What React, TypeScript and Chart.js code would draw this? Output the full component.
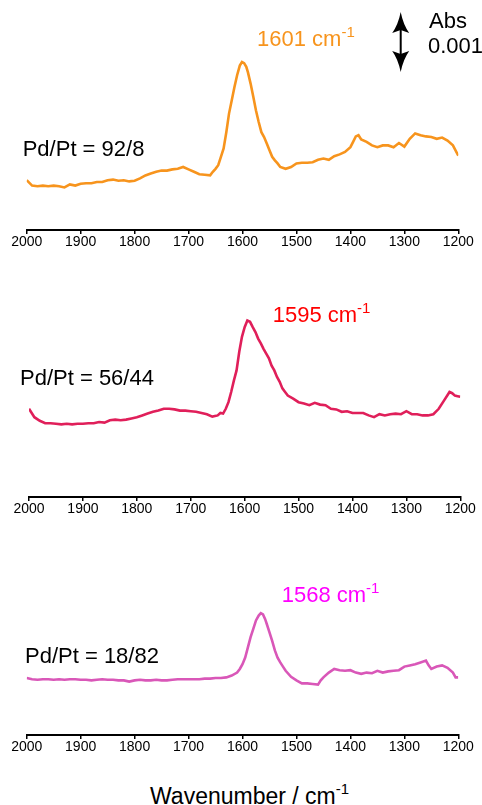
import React, { useEffect, useRef } from 'react';
import { Chart, registerables } from 'chart.js';

Chart.register(...registerables);

const FONT = "'Liberation Sans', Arial, Helvetica, sans-serif";

// x-axis tick labels (wavenumber, cm^-1)
const TICKS = [2000, 1900, 1800, 1700, 1600, 1500, 1400, 1300, 1200];

// Panel 1: Pd/Pt = 92/8 (absorbance, units of 0.001 Abs, arbitrary offset)
const WN1 = [2000, 1990, 1980, 1970, 1960, 1950, 1940, 1930, 1920, 1910, 1900, 1890, 1880, 1870, 1860, 1850, 1840, 1830, 1820, 1810, 1800, 1790, 1780, 1770, 1760, 1750, 1740, 1730, 1720, 1710, 1700, 1690, 1680, 1670, 1660, 1655, 1650, 1645, 1640, 1635, 1630, 1625, 1620, 1615, 1610, 1605, 1601, 1597, 1593, 1590, 1585, 1580, 1575, 1570, 1565, 1560, 1555, 1550, 1545, 1540, 1535, 1530, 1520, 1510, 1500, 1490, 1480, 1470, 1460, 1450, 1440, 1430, 1420, 1410, 1400, 1395, 1390, 1385, 1380, 1370, 1360, 1350, 1340, 1330, 1320, 1310, 1300, 1290, 1280, 1270, 1260, 1250, 1240, 1230, 1220, 1210, 1200];
const ABS1 = [0.83, 0.74, 0.73, 0.74, 0.73, 0.74, 0.73, 0.71, 0.76, 0.74, 0.77, 0.78, 0.78, 0.80, 0.80, 0.83, 0.84, 0.82, 0.83, 0.81, 0.82, 0.86, 0.91, 0.94, 0.97, 0.99, 0.99, 1.01, 1.02, 1.05, 1.01, 0.97, 0.93, 0.92, 0.91, 0.97, 1.02, 1.08, 1.22, 1.36, 1.63, 1.94, 2.16, 2.38, 2.58, 2.74, 2.80, 2.78, 2.72, 2.63, 2.44, 2.22, 1.99, 1.80, 1.63, 1.55, 1.44, 1.33, 1.22, 1.16, 1.11, 1.05, 1.02, 1.05, 1.11, 1.12, 1.12, 1.13, 1.17, 1.19, 1.17, 1.23, 1.26, 1.30, 1.38, 1.47, 1.56, 1.58, 1.51, 1.47, 1.41, 1.38, 1.41, 1.41, 1.38, 1.45, 1.39, 1.52, 1.61, 1.58, 1.56, 1.55, 1.52, 1.54, 1.49, 1.41, 1.24];

// Panel 2: Pd/Pt = 56/44
const WN2 = [2000, 1995, 1990, 1980, 1970, 1960, 1950, 1940, 1930, 1920, 1910, 1900, 1890, 1880, 1870, 1860, 1850, 1840, 1830, 1820, 1810, 1800, 1790, 1780, 1770, 1760, 1750, 1740, 1730, 1720, 1710, 1700, 1690, 1680, 1670, 1660, 1650, 1645, 1640, 1635, 1630, 1625, 1620, 1615, 1610, 1605, 1600, 1595, 1590, 1585, 1580, 1575, 1570, 1565, 1560, 1555, 1550, 1545, 1540, 1535, 1530, 1525, 1520, 1510, 1500, 1490, 1480, 1470, 1460, 1450, 1440, 1430, 1420, 1410, 1400, 1390, 1380, 1370, 1360, 1350, 1340, 1330, 1320, 1310, 1300, 1290, 1280, 1270, 1260, 1250, 1240, 1230, 1220, 1215, 1210, 1205, 1200];
const ABS2 = [1.47, 1.40, 1.33, 1.27, 1.23, 1.23, 1.22, 1.21, 1.22, 1.21, 1.22, 1.22, 1.23, 1.23, 1.25, 1.24, 1.28, 1.29, 1.28, 1.29, 1.31, 1.33, 1.36, 1.39, 1.42, 1.44, 1.47, 1.47, 1.46, 1.44, 1.44, 1.43, 1.42, 1.40, 1.38, 1.34, 1.36, 1.40, 1.39, 1.47, 1.58, 1.75, 1.94, 2.11, 2.42, 2.67, 2.83, 2.94, 2.92, 2.83, 2.75, 2.64, 2.56, 2.47, 2.39, 2.31, 2.19, 2.11, 2.00, 1.92, 1.81, 1.75, 1.69, 1.64, 1.58, 1.56, 1.53, 1.57, 1.54, 1.53, 1.47, 1.46, 1.42, 1.43, 1.40, 1.40, 1.40, 1.36, 1.33, 1.38, 1.36, 1.38, 1.39, 1.38, 1.43, 1.38, 1.38, 1.36, 1.36, 1.38, 1.47, 1.61, 1.75, 1.73, 1.69, 1.68, 1.67];

// Panel 3: Pd/Pt = 18/82
const WN3 = [2000, 1990, 1980, 1970, 1960, 1950, 1940, 1930, 1920, 1910, 1900, 1890, 1880, 1870, 1860, 1850, 1840, 1830, 1820, 1810, 1800, 1790, 1780, 1770, 1760, 1750, 1740, 1730, 1720, 1710, 1700, 1690, 1680, 1670, 1660, 1650, 1640, 1630, 1620, 1610, 1605, 1600, 1595, 1590, 1585, 1580, 1575, 1570, 1566, 1562, 1558, 1555, 1550, 1545, 1540, 1535, 1530, 1525, 1520, 1510, 1500, 1490, 1480, 1470, 1460, 1455, 1450, 1440, 1430, 1420, 1410, 1400, 1390, 1380, 1370, 1360, 1350, 1340, 1330, 1320, 1310, 1300, 1290, 1280, 1270, 1260, 1255, 1250, 1240, 1230, 1220, 1210, 1205, 1200];
const ABS3 = [0.95, 0.93, 0.92, 0.93, 0.93, 0.92, 0.93, 0.92, 0.93, 0.93, 0.92, 0.92, 0.91, 0.92, 0.93, 0.92, 0.92, 0.91, 0.91, 0.89, 0.91, 0.92, 0.91, 0.91, 0.92, 0.91, 0.91, 0.92, 0.93, 0.93, 0.93, 0.93, 0.93, 0.94, 0.94, 0.95, 0.95, 0.96, 0.99, 1.04, 1.10, 1.18, 1.29, 1.46, 1.63, 1.77, 1.91, 1.99, 2.03, 2.01, 1.93, 1.85, 1.71, 1.57, 1.41, 1.29, 1.21, 1.14, 1.07, 0.97, 0.91, 0.86, 0.86, 0.85, 0.84, 0.91, 0.96, 1.04, 1.10, 1.08, 1.07, 1.08, 1.04, 1.02, 1.04, 1.03, 1.07, 1.04, 1.06, 1.07, 1.08, 1.14, 1.16, 1.18, 1.21, 1.24, 1.16, 1.10, 1.14, 1.16, 1.12, 1.04, 0.96, 0.96];

// Scale bar value (units of 0.001 Abs)
const SCALE_BAR = 1;
const PX_PER_UNIT = 60;
const X_AXIS_H = 30;

const scaleBarPlugin = {
  id: 'scaleBar',
  afterDraw(chart: any) {
    const { ctx } = chart;
    const y = chart.scales.y;
    const len = y.getPixelForValue(0) - y.getPixelForValue(SCALE_BAR);
    const x = 400.7;
    const top = 12;
    const bottom = top + len;
    const hh = 21;
    const hw = 8.5;
    const notch = 3;
    ctx.save();
    ctx.fillStyle = '#000';
    ctx.strokeStyle = '#000';
    ctx.lineWidth = 2;
    ctx.beginPath();
    ctx.moveTo(x, top + hh - notch);
    ctx.lineTo(x, bottom - hh + notch);
    ctx.stroke();
    // top head
    ctx.beginPath();
    ctx.moveTo(x, top);
    ctx.quadraticCurveTo(x + 2.5, top + hh * 0.6, x + hw, top + hh);
    ctx.lineTo(x, top + hh - notch);
    ctx.lineTo(x - hw, top + hh);
    ctx.quadraticCurveTo(x - 2.5, top + hh * 0.6, x, top);
    ctx.closePath();
    ctx.fill();
    // bottom head
    ctx.beginPath();
    ctx.moveTo(x, bottom);
    ctx.quadraticCurveTo(x + 2.5, bottom - hh * 0.6, x + hw, bottom - hh);
    ctx.lineTo(x, bottom - hh + notch);
    ctx.lineTo(x - hw, bottom - hh);
    ctx.quadraticCurveTo(x - 2.5, bottom - hh * 0.6, x, bottom);
    ctx.closePath();
    ctx.fill();
    ctx.restore();
  },
};

type PanelProps = {
  top: number;
  height: number;
  padLeft: number;
  padRight: number;
  wn: number[];
  abs: number[];
  color: string;
  scaleBar?: boolean;
};

function Panel({ top, height, padLeft, padRight, wn, abs, color, scaleBar }: PanelProps) {
  const ref = useRef<HTMLCanvasElement | null>(null);
  useEffect(() => {
    if (!ref.current) return;
    const areaH = height - X_AXIS_H;
    const chart = new Chart(ref.current, {
      type: 'line',
      data: {
        datasets: [
          {
            data: wn.map((w, i) => ({ x: w, y: abs[i] })),
            borderColor: color,
            backgroundColor: color,
            borderWidth: 2.6,
            pointRadius: 0,
            tension: 0,
            fill: false,
            borderJoinStyle: 'miter',
          },
        ],
      },
      options: {
        animation: false,
        responsive: false,
        maintainAspectRatio: false,
        events: [],
        layout: { padding: { left: padLeft, right: padRight, top: 0, bottom: 0 } },
        plugins: {
          legend: { display: false },
          tooltip: { enabled: false },
          title: { display: false },
        },
        scales: {
          x: {
            type: 'linear',
            reverse: true,
            min: 1200,
            max: 2000,
            afterBuildTicks: (s: any) => {
              s.ticks = TICKS.map((v) => ({ value: v }));
            },
            afterFit: (s: any) => {
              s.height = X_AXIS_H;
            },
            grid: {
              display: true,
              drawOnChartArea: false,
              drawTicks: true,
              tickLength: 4,
              color: '#000',
              lineWidth: 1.5,
            },
            border: { display: true, color: '#000', width: 2 },
            ticks: {
              color: '#000',
              font: { family: FONT, size: 14 },
              padding: 0,
              maxRotation: 0,
              autoSkip: false,
              callback: (v: any) => String(v),
            },
          },
          y: {
            display: false,
            min: 0,
            max: areaH / PX_PER_UNIT,
          },
        },
      } as any,
      plugins: scaleBar ? [scaleBarPlugin] : [],
    });
    return () => chart.destroy();
  }, []);
  return (
    <canvas
      ref={ref}
      width={482}
      height={height}
      style={{ position: 'absolute', left: 0, top, width: 482, height }}
    />
  );
}

function Label({
  left,
  baseline,
  size,
  color,
  text,
  sup,
}: {
  left: number;
  baseline: number;
  size: number;
  color: string;
  text: string;
  sup?: string;
}) {
  const topPx = baseline - size * 0.8465;
  return (
    <div
      style={{
        position: 'absolute',
        left,
        top: topPx,
        fontFamily: FONT,
        fontSize: size,
        lineHeight: 1,
        color,
        whiteSpace: 'nowrap',
      }}
    >
      {text}
      {sup ? (
        <span style={{ fontSize: 15, position: 'relative', top: -9.5 }}>{sup}</span>
      ) : null}
    </div>
  );
}

export default function App() {
  return (
    <div
      style={{
        position: 'absolute',
        left: 0,
        top: 0,
        width: 482,
        height: 805,
        background: '#fff',
        overflow: 'hidden',
      }}
    >
      <Panel top={0} height={260} padLeft={26.7} padRight={23.7} wn={WN1} abs={ABS1} color="#F7941D" scaleBar />
      <Panel top={260} height={267} padLeft={29} padRight={21.7} wn={WN2} abs={ABS2} color="#E01F5A" />
      <Panel top={527} height={238} padLeft={26.7} padRight={23.7} wn={WN3} abs={ABS3} color="#D957B8" />

      <Label left={257} baseline={46.7} size={22} color="#F7941D" text="1601 cm" sup="-1" />
      <Label left={22.7} baseline={156.7} size={22} color="#000" text="Pd/Pt = 92/8" />
      <Label left={429} baseline={28.3} size={22} color="#000" text="Abs" />
      <Label left={428} baseline={53.3} size={22} color="#000" text="0.001" />

      <Label left={272.7} baseline={322.7} size={22} color="#FF0000" text="1595 cm" sup="-1" />
      <Label left={20} baseline={386} size={22} color="#000" text="Pd/Pt = 56/44" />

      <Label left={281.7} baseline={602.7} size={22} color="#FF00FF" text="1568 cm" sup="-1" />
      <Label left={25} baseline={663.3} size={22} color="#000" text="Pd/Pt = 18/82" />

      <Label left={150} baseline={804} size={23} color="#000" text="Wavenumber / cm" sup="-1" />
    </div>
  );
}
